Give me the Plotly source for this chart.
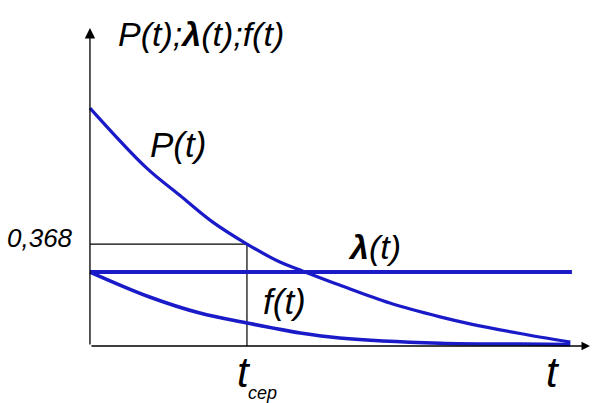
import plotly.graph_objects as go

# Reliability functions for an exponential law (schematic)
t_p = [0.0, 0.36, 0.57, 0.78, 1.0, 1.21, 1.34, 1.59, 1.91, 2.23, 2.42, 2.74, 3.06]
p_vals = [0.859, 0.643, 0.545, 0.448, 0.368, 0.303, 0.274, 0.220, 0.155, 0.105, 0.080, 0.045, 0.014]

t_lam = [0.0, 3.07]
lam_vals = [0.267, 0.267]

t_f = [0.0, 0.38, 0.70, 1.0, 1.34, 1.59, 2.23, 2.74, 3.06]
f_vals = [0.267, 0.177, 0.119, 0.083, 0.047, 0.029, 0.010, 0.007, 0.005]

t_mean = 1.0          # t_сер
p_at_mean = 0.368     # P(t_сер) = e^-1

x_end = 3.185
y_end = 1.148

BLUE = "#1a1ac8"
FONT = "Liberation Sans, Arial, sans-serif"

fig = go.Figure()

# guide lines to the point (t_сер, 0.368)
fig.add_trace(go.Scatter(x=[0, t_mean, t_mean], y=[p_at_mean, p_at_mean, 0],
                         mode="lines", line=dict(color="black", width=1.2),
                         hoverinfo="skip"))

fig.add_trace(go.Scatter(x=t_p, y=p_vals, mode="lines", line_shape="spline",
                         line=dict(color=BLUE, width=3.2), hoverinfo="skip"))
fig.add_trace(go.Scatter(x=t_lam, y=lam_vals, mode="lines",
                         line=dict(color=BLUE, width=4), hoverinfo="skip"))
fig.add_trace(go.Scatter(x=t_f, y=f_vals, mode="lines", line_shape="spline",
                         line=dict(color=BLUE, width=3.6), hoverinfo="skip"))

# coordinate axes with arrows
fig.add_annotation(x=0, y=y_end, ax=0, ay=0, xref="x", yref="y", axref="x", ayref="y",
                   showarrow=True, arrowhead=2, arrowsize=1.6, arrowwidth=1.3,
                   arrowcolor="black", text="")
fig.add_annotation(x=x_end, y=0, ax=0, ay=0, xref="x", yref="y", axref="x", ayref="y",
                   showarrow=True, arrowhead=2, arrowsize=1.3, arrowwidth=1.3,
                   arrowcolor="black", text="")

def label(x, y, text, size, **kw):
    fig.add_annotation(x=x, y=y, xref="x", yref="y", text=text, showarrow=False,
                       font=dict(family=FONT, size=size, color="black"),
                       xanchor="center", yanchor="middle", **kw)

label(0.707, 1.126, "<i>P(t);<b>λ</b>(t);f(t)</i>", 34)
label(0.56, 0.726, "<i>P(t)</i>", 35)
label(1.815, 0.357, "<i><b>λ</b>(t)</i>", 34)
label(1.242, 0.162, "<i>f(t)</i>", 35)
label(-0.318, 0.39, "<i>0,368</i>", 26)
label(0.98, -0.097, "<i>t</i>", 42)
label(1.10, -0.168, "<i>сер</i>", 18)
label(2.95, -0.097, "<i>t</i>", 42)

fig.update_layout(
    width=595, height=403,
    margin=dict(l=0, r=0, t=0, b=0),
    paper_bgcolor="white", plot_bgcolor="white",
    showlegend=False,
    xaxis=dict(range=[-0.573, 3.217], visible=False, fixedrange=True),
    yaxis=dict(range=[-0.2058, 1.2491], visible=False, fixedrange=True),
)

fig.write_html("out.html")
